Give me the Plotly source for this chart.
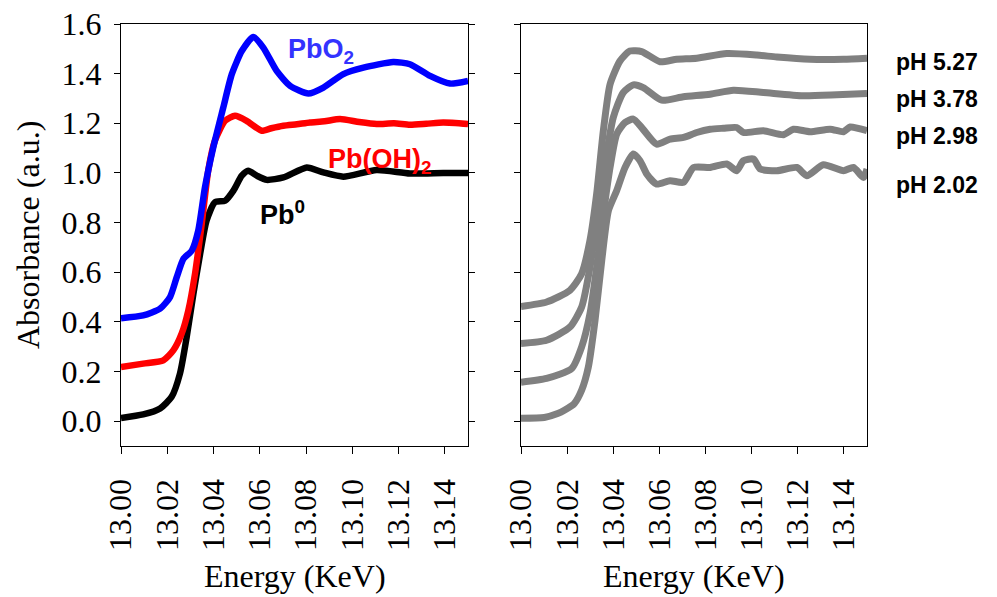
import plotly.graph_objects as go

W, H = 997, 597

# ---- Left panel: reference spectra ----
pbo2_E = [13.000, 13.0096, 13.0169, 13.0212, 13.0241, 13.0270, 13.0306, 13.0334, 13.0363, 13.0399,
          13.0442, 13.0479, 13.0522, 13.0572, 13.0615, 13.0673, 13.0731, 13.0810, 13.0875, 13.0961,
          13.1048, 13.1177, 13.1249, 13.1336, 13.1422, 13.1500]
pbo2_A = [0.415, 0.426, 0.453, 0.500, 0.580, 0.654, 0.687, 0.768, 0.942, 1.103,
          1.263, 1.398, 1.491, 1.548, 1.505, 1.411, 1.351, 1.320, 1.344, 1.398,
          1.424, 1.447, 1.438, 1.391, 1.360, 1.371]

pboh_E = [13.000, 13.0096, 13.0183, 13.0226, 13.0262, 13.0291, 13.0320, 13.0349, 13.0377, 13.0406,
          13.0450, 13.0493, 13.0543, 13.0608, 13.0650, 13.0702, 13.0760, 13.0817, 13.0880, 13.0947,
          13.1030, 13.1105, 13.1180, 13.1249, 13.1320, 13.1393, 13.1500]
pboh_A = [0.218, 0.232, 0.245, 0.285, 0.352, 0.446, 0.594, 0.795, 1.009, 1.130,
          1.210, 1.230, 1.210, 1.170, 1.180, 1.190, 1.196, 1.203, 1.208, 1.217,
          1.205, 1.197, 1.200, 1.194, 1.198, 1.203, 1.197]

pb0_E = [13.000, 13.0096, 13.0169, 13.0219, 13.0255, 13.0284, 13.0313, 13.0342, 13.0370, 13.0406,
         13.0450, 13.0486, 13.0522, 13.0550, 13.0587, 13.0630, 13.0702, 13.0803, 13.0875, 13.0961,
         13.1105, 13.1249, 13.1393, 13.1500]
pb0_A = [0.013, 0.027, 0.051, 0.098, 0.192, 0.339, 0.513, 0.674, 0.808, 0.882,
         0.888, 0.929, 0.989, 1.009, 0.989, 0.972, 0.982, 1.022, 1.002, 0.985,
         1.012, 0.998, 1.000, 1.000]

# ---- Right panel: samples at different pH ----
ph527_E = [13.000, 13.0111, 13.0212, 13.0263, 13.0299, 13.0328, 13.0357, 13.0386, 13.0429, 13.0472,
           13.0523, 13.0603, 13.0675, 13.0762, 13.0892, 13.1022, 13.1109, 13.1253, 13.1398, 13.1500]
ph527_A = [0.462, 0.480, 0.527, 0.594, 0.728, 0.915, 1.170, 1.357, 1.451, 1.491,
           1.489, 1.448, 1.458, 1.462, 1.481, 1.475, 1.467, 1.458, 1.458, 1.462]

ph378_E = [13.000, 13.0111, 13.0212, 13.0263, 13.0299, 13.0328, 13.0364, 13.0400, 13.0443, 13.0487,
           13.0530, 13.0610, 13.0704, 13.0820, 13.0921, 13.1051, 13.1224, 13.1369, 13.1500]
ph378_A = [0.313, 0.326, 0.379, 0.460, 0.620, 0.808, 1.036, 1.223, 1.324, 1.355,
           1.344, 1.293, 1.307, 1.317, 1.333, 1.324, 1.311, 1.315, 1.320]

ph298_E = [13.000, 13.0111, 13.0220, 13.0263, 13.0299, 13.0328, 13.0357, 13.0386, 13.0415, 13.0451,
           13.0487, 13.0523, 13.0588, 13.0646, 13.0704, 13.0762, 13.0820, 13.0877, 13.0935, 13.0964,
           13.1051, 13.1138, 13.1181, 13.1253, 13.1340, 13.1398, 13.1427, 13.1500]
ph298_A = [0.157, 0.172, 0.212, 0.299, 0.433, 0.620, 0.835, 1.022, 1.157, 1.203,
           1.217, 1.183, 1.116, 1.136, 1.143, 1.163, 1.176, 1.180, 1.183, 1.163,
           1.170, 1.154, 1.176, 1.166, 1.176, 1.166, 1.185, 1.170]

ph202_E = [13.000, 13.0101, 13.0159, 13.0188, 13.0231, 13.0263, 13.0292, 13.0321, 13.0350, 13.0379,
           13.0415, 13.0451, 13.0487, 13.0516, 13.0545, 13.0588, 13.0646, 13.0704, 13.0748, 13.0820,
           13.0892, 13.0935, 13.0964, 13.1008, 13.1037, 13.1109, 13.1196, 13.1239, 13.1311, 13.1398,
           13.1441, 13.1485, 13.1500]
ph202_A = [0.012, 0.015, 0.031, 0.044, 0.071, 0.125, 0.218, 0.406, 0.647, 0.848,
           0.929, 1.022, 1.076, 1.049, 0.996, 0.955, 0.969, 0.962, 1.022, 1.022,
           1.036, 1.009, 1.049, 1.056, 1.016, 1.009, 1.022, 0.989, 1.033, 1.009,
           1.022, 0.982, 1.016]

x_ticks = [13.00, 13.02, 13.04, 13.06, 13.08, 13.10, 13.12, 13.14]
y_ticks = [0.0, 0.2, 0.4, 0.6, 0.8, 1.0, 1.2, 1.4, 1.6]

fig = go.Figure()

def add(x, y, color, width, axes):
    fig.add_trace(go.Scatter(x=x, y=y, mode="lines", line=dict(color=color, width=width, shape="spline", smoothing=0.6),
                             xaxis=axes[0], yaxis=axes[1], showlegend=False, hoverinfo="skip"))

add(pb0_E, pb0_A, "#000000", 6.5, ("x", "y"))
add(pboh_E, pboh_A, "#ff0000", 6.5, ("x", "y"))
add(pbo2_E, pbo2_A, "#0000ff", 6.5, ("x", "y"))

gray = "#808080"
for e, a in [(ph527_E, ph527_A), (ph378_E, ph378_A), (ph298_E, ph298_A), (ph202_E, ph202_A)]:
    add(e, a, gray, 7, ("x2", "y2"))

serif = "Times New Roman, Liberation Serif, serif"
sans = "Arial, Liberation Sans, sans-serif"

def px(v):
    return v / W

def py(v):
    return 1 - v / H

ydom = [py(446), py(24)]

xcommon = dict(range=[13.0, 13.15], tickvals=x_ticks, ticktext=[f"{v:.2f}" for v in x_ticks],
               tickangle=-90, ticks="outside", ticklen=7, tickwidth=1.3, tickcolor="black",
               showline=True, linecolor="black", linewidth=1.3, mirror=True, showgrid=False, zeroline=False,
               automargin=False, ticklabelstandoff=12, tickfont=dict(family=serif, size=32, color="black"))
ycommon = dict(range=[-0.1, 1.6], tickvals=y_ticks, ticks="outside", ticklen=6, tickwidth=1.3, tickcolor="black",
               showline=True, linecolor="black", linewidth=1.3, showgrid=False, zeroline=False,
               automargin=False, ticklabelstandoff=6, tickfont=dict(family=serif, size=32, color="black"))

fig.update_layout(
    width=W, height=H, margin=dict(l=0, r=0, t=0, b=0),
    paper_bgcolor="white", plot_bgcolor="white",
    xaxis=dict(domain=[px(121), px(468)], anchor="y", **xcommon),
    yaxis=dict(domain=ydom, anchor="x", mirror="ticks", ticktext=[f"{v:.1f}" for v in y_ticks], **ycommon),
    xaxis2=dict(domain=[px(521), px(867)], anchor="y2", **xcommon),
    yaxis2=dict(domain=ydom, anchor="x2", mirror=True, showticklabels=False, **ycommon),
)

ann = []
ann.append(dict(text="Absorbance (a.u.)", x=px(28), y=py(235), xref="paper", yref="paper", textangle=-90,
                xanchor="center", yanchor="middle",
                showarrow=False, font=dict(family=serif, size=32, color="black")))
for cx in (295, 694):
    ann.append(dict(text="Energy (KeV)", x=px(cx), y=py(576), xref="paper", yref="paper",
                    xanchor="center", yanchor="middle",
                    showarrow=False, font=dict(family=serif, size=32, color="black")))

ann.append(dict(text="<b>PbO<sub>2</sub></b>", x=13.0865, y=1.49, xref="x", yref="y", showarrow=False,
                xanchor="center", yanchor="middle",
                font=dict(family=sans, size=27, color="#3333ff")))
ann.append(dict(text="<b>Pb(OH)<sub>2</sub></b>", x=13.112, y=1.05, xref="x", yref="y", showarrow=False,
                xanchor="center", yanchor="middle",
                font=dict(family=sans, size=27, color="#ff0000")))
ann.append(dict(text="<b>Pb<sup>0</sup></b>", x=13.0696, y=0.84, xref="x", yref="y", showarrow=False,
                xanchor="center", yanchor="middle",
                font=dict(family=sans, size=27, color="black")))

for label, yy in [("pH 5.27", 62), ("pH 3.78", 99), ("pH 2.98", 136), ("pH 2.02", 185)]:
    ann.append(dict(text=f"<b>{label}</b>", x=px(894), y=py(yy), xref="paper", yref="paper", xanchor="left",
                    yanchor="middle", showarrow=False, font=dict(family=sans, size=23, color="black")))

fig.update_layout(annotations=ann)
fig.write_html("out.html")
